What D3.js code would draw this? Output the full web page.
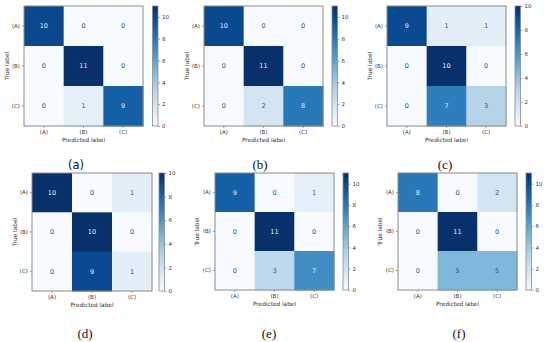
<!DOCTYPE html>
<html><head><meta charset="utf-8">
<script src="https://cdn.jsdelivr.net/npm/d3@7"></script>
<style>body{margin:0;background:#fff}svg{display:block}</style>
</head><body>
<svg id="c" width="550" height="342"></svg>
<script>
const classes = ["(A)", "(B)", "(C)"];
const captions = ["(a)", "(b)", "(c)", "(d)", "(e)", "(f)"];
const matA = [[10,0,0],[0,11,0],[0,1,9]];
const matB = [[10,0,0],[0,11,0],[0,2,8]];
const matC = [[9,1,1],[0,10,0],[0,7,3]];
const matD = [[10,0,1],[0,10,0],[0,9,1]];
const matE = [[9,0,1],[0,11,0],[0,3,7]];
const matF = [[8,0,2],[0,11,0],[0,5,5]];
const colorbarTicks = [0,2,4,6,8,10];

const mats = [matA, matB, matC, matD, matE, matF];
const layout = [
  {l:24, t:6, w:119, h:120, cb:152.5, yl:7, cx:76, cy:169, sans:true},
  {l:204, t:6, w:119, h:120, cb:332, yl:187, cx:260, cy:169},
  {l:387, t:6, w:119, h:120, cb:515, yl:370, cx:445, cy:169},
  {l:32, t:173, w:120, h:118, cb:159, yl:15, cx:85, cy:338},
  {l:215, t:173, w:119, h:117, cb:343, yl:197, cx:269, cy:338},
  {l:398, t:173, w:119, h:117, cb:526, yl:380, cx:459, cy:338}
];
const svg = d3.select("#c");
const font = "DejaVu Sans";
const frame = "#8a8a8a";

mats.forEach((m, i) => {
  const L = layout[i];
  const vals = m.flat();
  const vmax = d3.max(vals), vmin = d3.min(vals);
  const color = d3.scaleSequential(d3.interpolateBlues).domain([vmin, vmax]);
  const thresh = (vmax + vmin) / 2;
  const x = d3.scaleBand().domain(classes).range([L.l, L.l + L.w]);
  const y = d3.scaleBand().domain(classes).range([L.t, L.t + L.h]);
  const g = svg.append("g");
  const cells = [];
  m.forEach((row, r) => row.forEach((v, c) => cells.push({r, c, v})));
  g.selectAll("rect.cell").data(cells).enter().append("rect")
    .attr("x", d => x(classes[d.c])).attr("y", d => y(classes[d.r]))
    .attr("width", x.bandwidth() + 0.5).attr("height", y.bandwidth() + 0.5)
    .attr("fill", d => color(d.v));
  g.selectAll("text.v").data(cells).enter().append("text")
    .attr("x", d => x(classes[d.c]) + x.bandwidth() / 2)
    .attr("y", d => y(classes[d.r]) + y.bandwidth() / 2)
    .attr("dy", "0.35em").attr("text-anchor", "middle")
    .attr("font-family", font).attr("font-size", 6.5)
    .attr("fill", d => d.v > thresh ? "#e8f1fa" : "#28508a")
    .text(d => d.v);
  g.append("rect").attr("x", L.l).attr("y", L.t).attr("width", L.w).attr("height", L.h)
    .attr("fill", "none").attr("stroke", frame).attr("stroke-width", 1);
  const xa = g.append("g").attr("transform", `translate(0,${L.t + L.h})`)
    .call(d3.axisBottom(x).tickSize(2).tickPadding(2));
  const ya = g.append("g").attr("transform", `translate(${L.l},0)`)
    .call(d3.axisLeft(y).tickSize(2).tickPadding(2));
  [xa, ya].forEach(a => {
    a.select(".domain").remove();
    a.selectAll("line").attr("stroke", "#666").attr("stroke-width", 0.6);
    a.selectAll("text").attr("font-family", font).attr("font-size", 5.5).attr("fill", "#333");
  });
  g.append("text").attr("x", L.l + L.w / 2).attr("y", L.t + L.h + 16)
    .attr("text-anchor", "middle").attr("font-family", font).attr("font-size", 5.8)
    .attr("fill", "#333").text("Predicted label");
  g.append("text").attr("transform", `translate(${L.yl},${L.t + L.h / 2}) rotate(-90)`)
    .attr("text-anchor", "middle").attr("dy", "0.35em").attr("font-family", font).attr("font-size", 5.8)
    .attr("fill", "#333").text("True label");
  const cbW = 5.5;
  const cy = d3.scaleLinear().domain([vmin, vmax]).range([L.t + L.h, L.t]);
  const defs = svg.append("defs");
  const gid = "grad" + i;
  const grad = defs.append("linearGradient").attr("id", gid)
    .attr("x1", 0).attr("y1", 1).attr("x2", 0).attr("y2", 0);
  d3.range(0, 1.0001, 0.1).forEach(t => grad.append("stop")
    .attr("offset", t).attr("stop-color", color(vmin + t * (vmax - vmin))));
  g.append("rect").attr("x", L.cb).attr("y", L.t).attr("width", cbW).attr("height", L.h)
    .attr("fill", `url(#${gid})`).attr("stroke", frame).attr("stroke-width", 0.8);
  const ca = g.append("g").attr("transform", `translate(${L.cb + cbW},0)`)
    .call(d3.axisRight(cy).tickValues(colorbarTicks).tickSize(2).tickPadding(2));
  ca.select(".domain").remove();
  ca.selectAll("line").attr("stroke", "#666").attr("stroke-width", 0.6);
  ca.selectAll("text").attr("font-family", font).attr("font-size", 5.5).attr("fill", "#333");
  svg.append("text").attr("x", L.cx).attr("y", L.cy).attr("text-anchor", "middle")
    .attr("font-family", L.sans ? "DejaVu Sans" : "Liberation Serif")
    .attr("font-size", L.sans ? 11.5 : 13).attr("fill", "#111").text(captions[i]);
});
</script>
</body></html>
